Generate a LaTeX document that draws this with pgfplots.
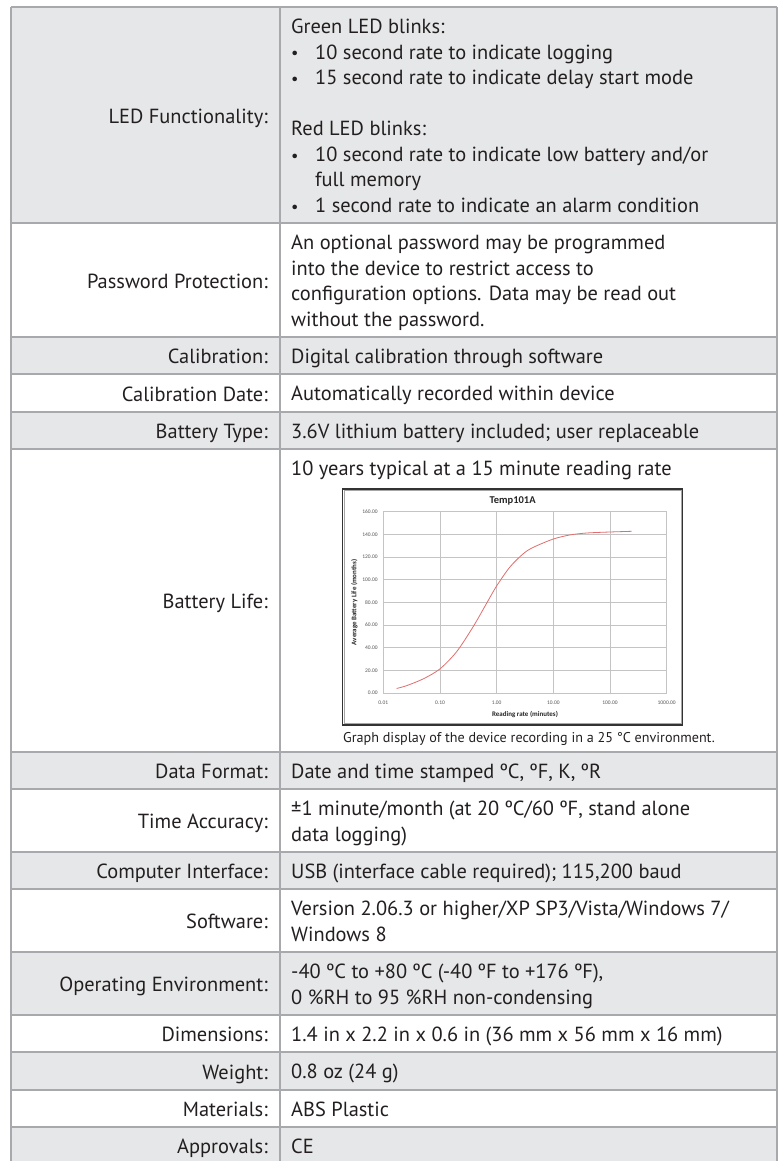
\documentclass[border=0pt]{standalone}
\usepackage{fontspec}
\setmainfont{PT Sans}
\newfontfamily\carlito{Carlito}
\usepackage{pgfplots}
\pgfplotsset{compat=1.18}
\definecolor{rowgray}{HTML}{E6E7E8}
\definecolor{linegray}{HTML}{A7A9AC}
\definecolor{txt}{HTML}{231F20}
\definecolor{gridgray}{HTML}{C4C4C4}
\definecolor{labgray}{HTML}{555555}
\definecolor{curvered}{RGB}{224,110,110}
\newcommand{\Lbl}[2]{\node[anchor=base east, inner sep=0pt] at (268,#1) {#2};}
\newcommand{\Txt}[3]{\node[anchor=base west, inner sep=0pt] at (#1,#2) {#3};}
\newcommand{\Bul}[2]{\node[anchor=base west, inner sep=0pt] at (291,#1) {\scalebox{0.8}{•}};\node[anchor=base west, inner sep=0pt] at (315,#1) {#2};}
\begin{document}
\begin{tikzpicture}
\useasboundingbox (0bp,0bp) rectangle (781bp,-1161bp);
\begin{scope}[x=1bp,y=-1bp]
\clip (0,0) rectangle (781,1161);
% row fills
\fill[rowgray] (11,7) rectangle (777,223);
\fill[rowgray] (11,337) rectangle (777,374);
\fill[rowgray] (11,412) rectangle (777,449);
\fill[rowgray] (11,752) rectangle (777,789);
\fill[rowgray] (11,852) rectangle (777,889);
\fill[rowgray] (11,952) rectangle (777,1015);
\fill[rowgray] (11,1052) rectangle (777,1090);
\fill[rowgray] (11,1127) rectangle (777,1170);
% borders
\foreach \yy in {7,223,337,374,412,449,752,789,852,889,952,1015,1052,1090,1127}
  \draw[linegray, line width=1.4bp] (11,\yy) -- (777,\yy);
\draw[linegray, line width=1.4bp] (11,7) -- (11,1170);
\draw[linegray, line width=1.4bp] (777,7) -- (777,1170);
\draw[linegray, line width=1.1bp] (280,7) -- (280,1170);
% text
\begin{scope}[every node/.style={text=txt, font=\fontsize{20.5}{24}\selectfont}]
\Lbl{123}{LED Functionality:}
\Txt{291}{33.5}{Green LED blinks:}
\Bul{59}{10 second rate to indicate logging}
\Bul{84.5}{15 second rate to indicate delay start mode}
\Txt{291}{135.5}{Red LED blinks:}
\Bul{161}{10 second rate to indicate low battery and/or}
\Txt{315}{186.5}{full memory}
\Bul{212}{1 second rate to indicate an alarm condition}
\Lbl{288}{Password Protection:}
\Txt{291}{249.5}{An optional password may be programmed}
\Txt{291}{275}{into the device to restrict access to}
\Txt{291}{300.5}{configuration options. Data may be read out}
\Txt{291}{326}{without the password.}
\Lbl{363.5}{Calibration:}
\Txt{291}{363.5}{Digital calibration through software}
\Lbl{401}{Calibration Date:}
\Txt{291}{400.5}{Automatically recorded within device}
\Lbl{438.5}{Battery Type:}
\Txt{291}{438.5}{3.6V lithium battery included; user replaceable}
\Lbl{608.5}{Battery Life:}
\Txt{291}{475.5}{10 years typical at a 15 minute reading rate}
\Lbl{778.5}{Data Format:}
\Txt{291}{778.5}{Date and time stamped ºC, ºF, K, ºR}
\Lbl{828.5}{Time Accuracy:}
\Txt{291}{815.5}{±1 minute/month (at 20 ºC/60 ºF, stand alone}
\Txt{291}{841}{data logging)}
\Lbl{878.5}{Computer Interface:}
\Txt{291}{878.5}{USB (interface cable required); 115,200 baud}
\Lbl{928.5}{Software:}
\Txt{291}{915.5}{Version 2.06.3 or higher/XP SP3/Vista/Windows 7/}
\Txt{291}{941}{Windows 8}
\Lbl{991.5}{Operating Environment:}
\Txt{291}{978.5}{-40 ºC to +80 ºC (-40 ºF to +176 ºF),}
\Txt{291}{1004}{0 \%RH to 95 \%RH non-condensing}
\Lbl{1041.5}{Dimensions:}
\Txt{291}{1041.5}{1.4 in x 2.2 in x 0.6 in (36 mm x 56 mm x 16 mm)}
\Lbl{1079}{Weight:}
\Txt{291}{1078.5}{0.8 oz (24 g)}
\Lbl{1116.5}{Materials:}
\Txt{291}{1116.5}{ABS Plastic}
\Lbl{1153.5}{Approvals:}
\Txt{291}{1153.5}{CE}
\end{scope}
\node[anchor=base west, inner sep=0pt, text=txt, font=\fontsize{14.2}{16}\selectfont] at (343,742.7) {Graph display of the device recording in a 25 °C environment.};
% chart frame
\fill[white] (342.7,489) rectangle (682.5,725);
\draw[black!80, line width=1.3bp] (342.7,489) rectangle (682.5,725);
\draw[black!35, line width=0.7bp] (344.3,490.6) rectangle (680.9,723.4);
\end{scope}
\begin{axis}[
  at={(383.3bp,-693bp)}, anchor=south west,
  scale only axis, width=283.4bp, height=181.3bp,
  xmode=log, xmin=0.01, xmax=1000, ymin=0, ymax=160,
  xtick={0.01,0.1,1,10,100,1000},
  xticklabels={0.01,0.10,1.00,10.00,100.00,1000.00},
  ytick={0,20,40,60,80,100,120,140,160},
  yticklabels={0.00,20.00,40.00,60.00,80.00,100.00,120.00,140.00,160.00},
  minor xtick={}, 
  tick style={draw=none},
  major tick length=0pt, minor tick length=0pt,
  axis line style={draw=gridgray, line width=0.6bp},
  grid=major, major grid style={draw=gridgray, line width=0.6bp},
  tick label style={font=\carlito\fontsize{5.5}{6}\selectfont, text=labgray, inner sep=0pt},
  yticklabel style={anchor=east, xshift=-5.5bp},
  xticklabel style={anchor=north, yshift=-8bp},
  xlabel={Reading rate (minutes)},
  xlabel style={at={(axis description cs:0.5,-0.116)}, anchor=center, font=\carlito\bfseries\fontsize{7}{8}\selectfont, text=black!85},
  ylabel={Average Battery Life (months)},
  ylabel style={at={(axis description cs:-0.1024,0.5)}, anchor=center, rotate=0, font=\carlito\bfseries\fontsize{7}{8}\selectfont, text=black!85},
  clip=false,
]
\addplot[color=curvered, line width=0.8bp, smooth] coordinates {
(0.0172,4.0) (0.0258,6.5) (0.0508,12.5) (0.1,21.3) (0.197,36.5) (0.387,58.7) (0.667,79.3) (1.0,94.5) (1.72,111.3) (2.96,123.0) (4.44,128.6) (10,135.9) (19.7,139.5) (38.7,141.2) (100,142.1) (241,142.7)
};
\node[anchor=base, inner sep=0pt, font=\carlito\bfseries\fontsize{10.5}{12}\selectfont, text=black!85] at (axis description cs:0.4564,1.0463) {Temp101A};
\end{axis}
\end{tikzpicture}
\end{document}
